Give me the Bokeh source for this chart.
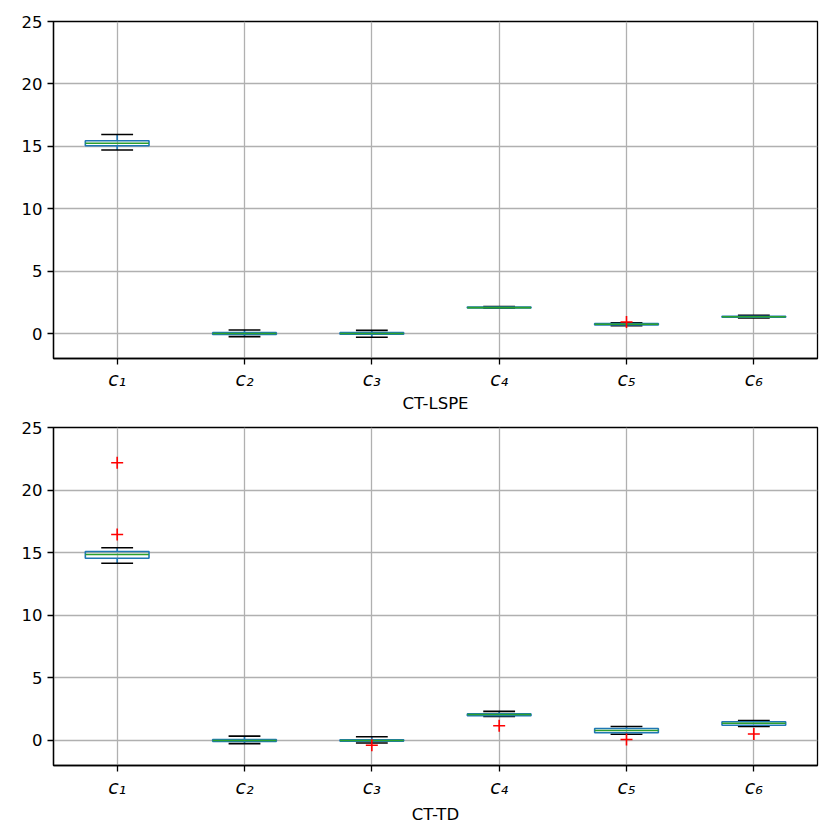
from bokeh.plotting import figure
from bokeh.layouts import column
from bokeh.models import FixedTicker, ColumnDataSource
from bokeh.embed import file_html
from bokeh.resources import INLINE

categories = ["c\u2081", "c\u2082", "c\u2083", "c\u2084", "c\u2085", "c\u2086"]
y_ticks = [0, 5, 10, 15, 20, 25]

# Panel 1: CT-LSPE
lspe_low = [14.7, -0.25, -0.3, 2.02, 0.62, 1.24]
lspe_q1 = [15.05, -0.07, -0.05, 2.04, 0.68, 1.3]
lspe_med = [15.25, 0.0, 0.0, 2.08, 0.74, 1.34]
lspe_q3 = [15.45, 0.07, 0.07, 2.12, 0.8, 1.38]
lspe_high = [15.95, 0.28, 0.25, 2.16, 0.86, 1.46]
lspe_out_cat = [5]
lspe_out_val = [0.93]

# Panel 2: CT-TD
td_low = [14.16, -0.25, -0.2, 1.92, 0.5, 1.12]
td_q1 = [14.56, -0.07, -0.05, 1.98, 0.62, 1.22]
td_med = [14.86, 0.0, 0.0, 2.07, 0.8, 1.38]
td_q3 = [15.1, 0.07, 0.05, 2.12, 0.95, 1.5]
td_high = [15.39, 0.35, 0.3, 2.32, 1.12, 1.6]
td_out_cat = [1, 1, 3, 4, 5, 6]
td_out_val = [22.18, 16.45, -0.38, 1.18, 0.08, 0.52]

FONT = "DejaVu Sans"
BLUE = "#1f77b4"
GREEN = "#2ca02c"
LW = 1.6


def make_panel(label, low, q1, med, q3, high, out_cat, out_val, height,
               border_top, border_bottom, tick_standoff, label_standoff):
    x = list(range(1, len(categories) + 1))
    p = figure(width=822, height=height, x_range=(0.5, 6.5), y_range=(-2, 25),
               output_backend="svg", toolbar_location=None,
               min_border_left=53, min_border_right=5, min_border_top=border_top,
               min_border_bottom=border_bottom)
    src = ColumnDataSource(dict(
        x=x, x0=[v - 0.25 for v in x], x1=[v + 0.25 for v in x],
        c0=[v - 0.125 for v in x], c1=[v + 0.125 for v in x],
        low=low, q1=q1, med=med, q3=q3, high=high))
    # whiskers
    p.segment(x0="x", y0="q3", x1="x", y1="high", source=src, line_color=BLUE, line_width=LW)
    p.segment(x0="x", y0="q1", x1="x", y1="low", source=src, line_color=BLUE, line_width=LW)
    # caps
    p.segment(x0="c0", y0="high", x1="c1", y1="high", source=src, line_color="black", line_width=LW)
    p.segment(x0="c0", y0="low", x1="c1", y1="low", source=src, line_color="black", line_width=LW)
    # boxes
    p.quad(left="x0", right="x1", bottom="q1", top="q3", source=src,
           fill_color=None, line_color=BLUE, line_width=LW)
    # medians
    p.segment(x0="x0", y0="med", x1="x1", y1="med", source=src, line_color=GREEN, line_width=LW)
    # fliers
    p.scatter(out_cat, out_val, marker="cross", size=12, line_color="red", line_width=LW)

    p.xaxis.ticker = FixedTicker(ticks=x)
    p.xaxis.major_label_overrides = {i + 1: c for i, c in enumerate(categories)}
    p.yaxis.ticker = FixedTicker(ticks=y_ticks)
    p.xaxis.axis_label = label
    for ax in (p.xaxis, p.yaxis):
        ax.major_label_text_font = FONT
        ax.major_label_text_font_size = "16.5px"
        ax.major_label_text_color = "black"
        ax.axis_label_text_font = FONT
        ax.axis_label_text_font_size = "16.5px"
        ax.axis_label_text_font_style = "normal"
        ax.axis_label_text_color = "black"
        ax.major_tick_out = 6
        ax.major_tick_in = 0
        ax.minor_tick_line_color = None
        ax.axis_line_color = "black"
        ax.axis_line_width = 1.3
        ax.major_tick_line_color = "black"
        ax.major_tick_line_width = 1.3
    p.xaxis.major_label_text_font_style = "italic"
    p.xaxis.major_label_text_font_size = "19px"
    p.xaxis.major_label_standoff = tick_standoff
    p.xaxis.axis_label_standoff = label_standoff
    p.yaxis.major_label_standoff = 5
    p.grid.grid_line_color = "#b0b0b0"
    p.grid.grid_line_width = 1.3
    p.outline_line_color = "black"
    p.outline_line_alpha = 1
    p.outline_line_width = 1.3
    return p


p1 = make_panel("CT-LSPE", lspe_low, lspe_q1, lspe_med, lspe_q3, lspe_high,
                lspe_out_cat, lspe_out_val, 415, 21, 57, 3, 1)
p2 = make_panel("CT-TD", td_low, td_q1, td_med, td_q3, td_high,
                td_out_cat, td_out_val, 413, 12, 63, 4, 4)

layout = column(p1, p2, spacing=0)
open("out.html", "w").write(file_html(layout, INLINE))
